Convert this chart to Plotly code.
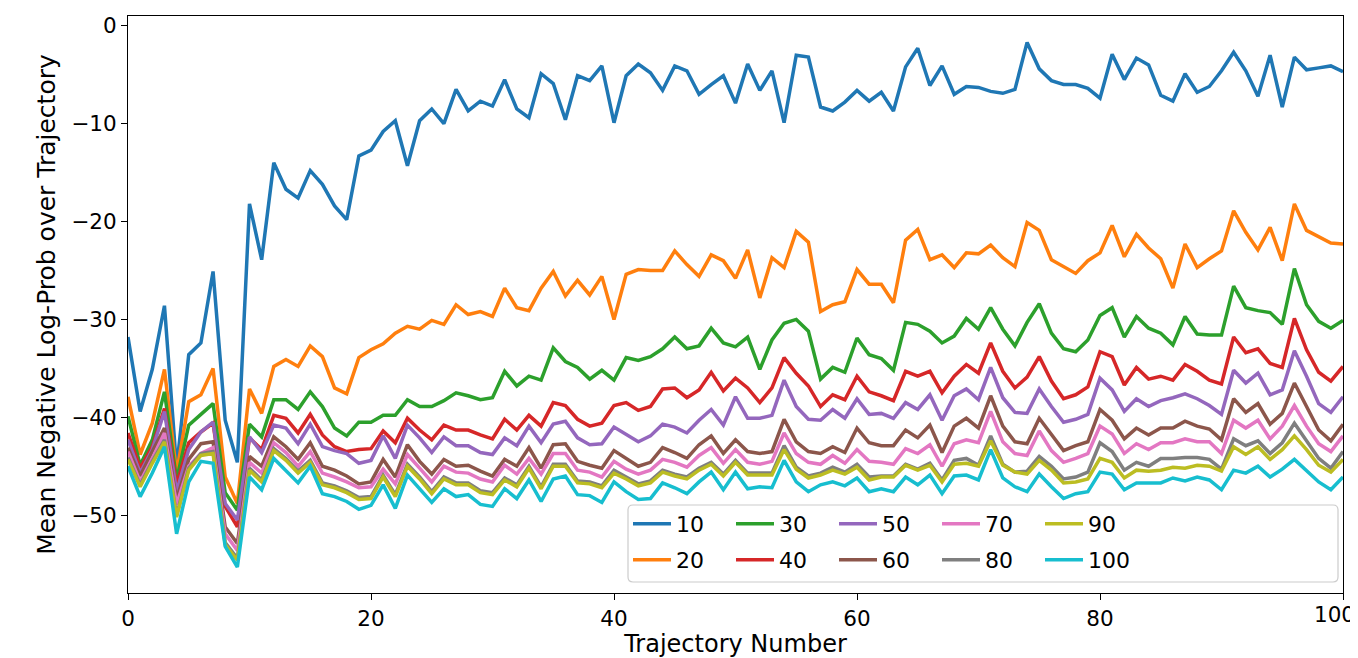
import plotly.graph_objects as go

x_vals = list(range(101))

s10 = [-31.8, -39.4, -35.1, -28.6, -45.2, -33.6, -32.4, -25.1, -40.3, -44.6,
       -18.2, -23.9, -14.0, -16.7, -17.6, -14.8, -16.2, -18.4, -19.8, -13.3,
       -12.7, -10.8, -9.7, -14.3, -9.7, -8.5, -10.0, -6.5, -8.7, -7.7,
       -8.2, -5.5, -8.5, -9.4, -4.9, -5.9, -9.6, -5.1, -5.6, -4.1,
       -9.9, -5.1, -3.9, -4.8, -6.6, -4.1, -4.6, -7.0, -6.0, -5.1,
       -7.9, -3.9, -6.6, -4.6, -9.9, -3.0, -3.2, -8.3, -8.7, -7.8,
       -6.6, -7.7, -6.8, -8.7, -4.2, -2.3, -6.1, -4.1, -7.0, -6.2,
       -6.3, -6.7, -6.9, -6.5, -1.7, -4.4, -5.6, -6.0, -6.0, -6.4,
       -7.4, -2.9, -5.5, -3.3, -4.0, -7.1, -7.7, -4.9, -6.8, -6.2,
       -4.6, -2.7, -4.6, -7.2, -3.0, -8.3, -3.2, -4.5, -4.3, -4.1, -4.7]

s20 = [-37.9, -43.8, -40.6, -35.1, -45.7, -38.4, -37.7, -35.0, -46.1, -48.8,
       -37.1, -39.6, -34.8, -34.1, -34.8, -32.7, -33.8, -37.0, -37.6, -33.9,
       -33.1, -32.5, -31.4, -30.7, -31.0, -30.1, -30.5, -28.5, -29.5, -29.2,
       -29.7, -26.8, -28.8, -29.1, -26.8, -25.1, -27.6, -26.0, -27.5, -25.6,
       -30.0, -25.4, -24.9, -25.0, -25.0, -23.0, -24.4, -25.6, -23.4, -24.0,
       -25.8, -22.9, -27.8, -23.7, -24.7, -21.0, -22.1, -29.2, -28.5, -28.2,
       -24.9, -26.4, -26.4, -28.3, -21.9, -20.8, -23.9, -23.4, -24.7, -23.2,
       -23.3, -22.4, -23.7, -24.6, -20.1, -20.9, -23.9, -24.6, -25.3, -24.0,
       -23.2, -20.4, -23.6, -21.3, -22.7, -23.8, -26.8, -22.3, -24.7, -23.8,
       -23.0, -18.9, -21.1, -22.9, -20.6, -24.0, -18.2, -20.9, -21.6, -22.2, -22.3]

s30 = [-39.9, -44.9, -42.3, -37.4, -46.4, -40.8, -39.7, -38.6, -47.7, -49.5,
       -40.7, -42.0, -38.2, -38.2, -39.2, -37.4, -38.9, -41.1, -41.9, -40.5,
       -40.5, -39.8, -39.8, -38.2, -38.9, -38.9, -38.3, -37.5, -37.8, -38.2,
       -38.0, -35.3, -36.8, -35.8, -36.2, -32.9, -34.3, -34.9, -36.1, -35.2,
       -36.2, -33.9, -34.2, -33.8, -33.0, -31.8, -33.0, -32.7, -30.9, -32.4,
       -32.8, -31.8, -35.1, -32.1, -30.4, -30.0, -31.2, -36.1, -34.9, -35.4,
       -31.9, -33.6, -34.0, -35.2, -30.3, -30.5, -31.2, -32.4, -31.7, -29.9,
       -31.0, -28.8, -31.0, -32.7, -30.3, -28.4, -31.4, -33.0, -33.3, -32.1,
       -29.6, -28.8, -31.8, -29.7, -30.9, -31.4, -32.6, -29.7, -31.5, -31.6,
       -31.6, -26.6, -28.8, -29.1, -29.3, -30.5, -24.8, -28.5, -30.2, -30.9, -30.1]

s40 = [-41.6, -45.2, -43.0, -39.1, -46.9, -42.6, -41.5, -40.6, -49.1, -51.2,
       -42.1, -43.3, -39.8, -40.1, -41.6, -39.7, -41.8, -43.0, -43.5, -43.3,
       -43.2, -41.4, -42.6, -40.1, -41.3, -42.3, -40.8, -41.3, -41.3, -41.8,
       -42.2, -40.2, -41.3, -39.8, -40.9, -38.5, -38.8, -40.2, -40.9, -40.6,
       -38.8, -38.5, -39.3, -38.9, -37.1, -37.0, -38.0, -37.2, -35.4, -37.3,
       -36.0, -37.0, -38.5, -37.0, -33.9, -35.5, -36.8, -38.9, -37.7, -38.2,
       -35.8, -37.4, -37.8, -38.3, -35.3, -35.8, -35.3, -37.5, -35.8, -34.6,
       -35.5, -32.4, -35.3, -37.0, -35.9, -33.8, -36.3, -38.1, -37.7, -36.9,
       -33.3, -33.8, -36.7, -34.9, -36.1, -35.8, -36.2, -34.6, -35.3, -36.2,
       -36.6, -31.8, -33.4, -33.0, -34.5, -34.9, -29.9, -33.1, -35.4, -36.3, -34.8]

s50 = [-42.3, -45.7, -43.3, -39.4, -47.6, -43.3, -41.5, -40.5, -48.8, -50.5,
       -42.0, -43.6, -40.8, -41.1, -42.7, -40.7, -43.0, -43.4, -43.7, -44.7,
       -44.4, -41.9, -44.2, -40.8, -42.1, -43.6, -42.0, -42.9, -42.9, -43.6,
       -43.8, -42.1, -42.9, -40.9, -42.6, -40.7, -40.4, -42.1, -42.8, -42.7,
       -41.0, -41.7, -42.5, -41.9, -40.7, -41.0, -41.6, -40.3, -39.2, -40.8,
       -37.9, -40.1, -40.1, -39.8, -36.2, -38.9, -40.2, -40.3, -39.2, -40.1,
       -38.1, -39.7, -39.6, -40.1, -38.5, -39.2, -37.7, -40.3, -37.8, -37.1,
       -38.2, -34.9, -38.0, -39.5, -39.6, -37.1, -38.9, -40.5, -40.2, -39.7,
       -36.0, -37.2, -39.4, -38.1, -38.9, -38.3, -38.0, -37.6, -38.1, -38.8,
       -39.7, -35.2, -36.5, -35.5, -37.7, -37.2, -33.2, -35.8, -38.6, -39.5, -37.9]

s60 = [-43.1, -46.0, -43.5, -41.1, -48.4, -44.3, -42.7, -42.5, -51.2, -52.9,
       -44.0, -45.0, -42.0, -43.0, -44.3, -42.6, -45.0, -45.4, -46.0, -46.8,
       -46.6, -44.3, -46.1, -42.8, -44.5, -45.8, -44.3, -45.0, -44.9, -45.5,
       -46.0, -44.3, -45.0, -43.1, -45.2, -42.8, -42.7, -44.5, -44.9, -45.2,
       -43.4, -44.2, -45.0, -44.6, -43.1, -43.6, -44.2, -42.8, -41.9, -43.7,
       -42.3, -43.5, -43.7, -43.5, -40.2, -42.5, -43.5, -43.7, -43.0, -43.6,
       -41.1, -42.6, -42.9, -42.9, -41.3, -42.1, -40.8, -43.6, -40.9, -40.1,
       -41.1, -37.8, -40.9, -42.5, -42.7, -40.1, -41.8, -43.4, -42.9, -42.5,
       -39.2, -40.3, -42.2, -41.1, -41.8, -41.1, -41.1, -40.4, -40.9, -41.2,
       -42.3, -38.1, -39.5, -38.6, -40.7, -39.6, -36.5, -38.9, -41.3, -42.4, -40.7]

s70 = [-43.5, -46.6, -44.2, -41.6, -48.9, -45.0, -43.7, -43.1, -51.9, -53.6,
       -44.6, -45.7, -42.6, -43.6, -45.0, -43.5, -45.7, -46.1, -46.6, -47.2,
       -47.1, -45.3, -46.8, -43.8, -45.2, -46.6, -45.0, -45.6, -45.7, -46.3,
       -46.6, -44.9, -45.8, -44.2, -45.8, -43.7, -43.7, -45.4, -45.6, -46.1,
       -44.5, -45.3, -45.8, -45.4, -44.3, -44.6, -45.1, -43.9, -43.1, -44.7,
       -43.3, -44.6, -44.8, -44.5, -41.6, -43.7, -44.6, -44.8, -43.9, -44.7,
       -43.3, -44.5, -44.6, -44.8, -43.2, -43.7, -42.8, -45.0, -42.7, -42.3,
       -42.6, -39.4, -42.5, -43.7, -43.9, -41.4, -43.4, -44.6, -44.2, -43.7,
       -40.9, -41.7, -43.7, -42.7, -43.3, -42.6, -42.6, -42.2, -42.5, -42.5,
       -43.7, -40.3, -41.1, -40.3, -42.2, -40.9, -38.8, -40.9, -42.7, -43.5, -41.9]

s80 = [-44.1, -46.9, -44.5, -42.3, -50.0, -45.2, -43.7, -43.5, -52.8, -54.4,
       -45.2, -46.4, -43.2, -44.2, -45.5, -44.4, -46.7, -47.0, -47.5, -48.2,
       -48.1, -45.9, -47.9, -44.8, -46.1, -47.6, -46.1, -46.7, -46.7, -47.5,
       -47.7, -46.2, -46.9, -45.0, -47.1, -44.8, -44.8, -46.5, -46.6, -47.0,
       -45.4, -46.1, -46.8, -46.5, -45.4, -45.8, -46.1, -45.2, -44.6, -45.8,
       -44.4, -45.7, -45.7, -45.7, -42.9, -45.1, -46.0, -45.7, -45.1, -45.6,
       -44.8, -46.1, -46.0, -46.0, -44.8, -45.3, -44.7, -46.4, -44.4, -44.2,
       -44.9, -41.9, -44.8, -45.6, -45.5, -44.0, -45.0, -46.3, -46.1, -45.6,
       -42.6, -43.5, -45.4, -44.6, -45.0, -44.2, -44.2, -44.1, -44.1, -44.3,
       -45.3, -42.2, -42.9, -42.4, -43.7, -42.6, -40.6, -42.4, -44.2, -45.2, -43.5]

s90 = [-44.3, -47.1, -44.7, -42.5, -50.2, -45.4, -43.9, -43.7, -53.0, -54.6,
       -45.4, -46.6, -43.4, -44.4, -45.7, -44.6, -46.9, -47.2, -47.7, -48.4,
       -48.3, -46.1, -48.1, -45.0, -46.3, -47.8, -46.3, -46.9, -46.9, -47.7,
       -47.9, -46.4, -47.1, -45.2, -47.3, -45.0, -45.0, -46.7, -46.8, -47.2,
       -45.7, -46.3, -47.0, -46.7, -45.6, -46.0, -46.3, -45.4, -44.8, -46.0,
       -44.6, -45.9, -45.9, -45.9, -43.3, -45.3, -46.2, -45.9, -45.4, -45.8,
       -45.1, -46.4, -46.1, -46.1, -44.9, -45.4, -44.9, -46.6, -44.8, -44.7,
       -45.0, -42.4, -44.9, -45.6, -45.8, -44.4, -45.4, -46.7, -46.6, -46.3,
       -44.2, -44.6, -46.2, -45.4, -45.5, -45.4, -45.1, -45.2, -44.9, -45.0,
       -45.5, -43.0, -43.8, -43.0, -44.3, -43.3, -41.9, -43.3, -44.9, -45.6, -44.3]

s100 = [-45.0, -48.1, -45.7, -43.0, -51.9, -46.6, -44.5, -44.7, -53.2, -55.3,
        -46.1, -47.4, -44.2, -45.4, -46.7, -45.0, -47.8, -48.1, -48.6, -49.4,
        -49.0, -46.9, -49.3, -45.9, -47.3, -48.7, -47.3, -48.1, -47.9, -48.9,
        -49.1, -47.3, -48.3, -46.4, -48.6, -46.3, -46.0, -47.9, -48.0, -48.7,
        -46.6, -47.6, -48.4, -48.3, -46.7, -47.2, -47.8, -46.6, -45.6, -47.4,
        -45.6, -47.3, -47.1, -47.2, -44.4, -46.6, -47.6, -46.9, -46.6, -47.0,
        -46.2, -47.6, -47.3, -47.6, -46.1, -46.9, -45.9, -47.8, -46.0, -45.9,
        -46.4, -43.3, -46.2, -47.1, -47.6, -45.8, -47.1, -48.3, -47.8, -47.6,
        -45.6, -45.8, -47.4, -46.7, -46.7, -46.7, -46.2, -46.5, -46.1, -46.4,
        -47.4, -45.4, -45.7, -45.0, -46.1, -45.3, -44.3, -45.4, -46.6, -47.4, -46.1]

series_names = ["10", "20", "30", "40", "50", "60", "70", "80", "90", "100"]
series_values = [s10, s20, s30, s40, s50, s60, s70, s80, s90, s100]
colors = ["#1f77b4", "#ff7f0e", "#2ca02c", "#d62728", "#9467bd",
          "#8c564b", "#e377c2", "#7f7f7f", "#bcbd22", "#17becf"]

x_ticks = [0, 20, 40, 60, 80, 100]
x_ticktext = ["0", "20", "40", "60", "80", "100"]
y_ticks = [0, -10, -20, -30, -40, -50]
y_ticktext = ["0", "\u221210", "\u221220", "\u221230", "\u221240", "\u221250"]

FONT = "DejaVu Sans"
TICK_SIZE = 21.5
LEG_SIZE = 22

# page body has an 8px margin; figure is drawn at offset (8, 8)
OFF = 8
W, H = 1358 - OFF, 658 - OFF
# plot area in screen pixels
SL, SR, ST, SB = 128, 1343, 16, 593
L, R, T, B = SL - OFF, SR - OFF, ST - OFF, SB - OFF
pw, ph = R - L, B - T

def px_to_paper_x(px):   # screen px -> paper
    return (px - SL) / pw

def px_to_paper_y(py):
    return (SB - py) / ph

fig = go.Figure()

for i, (name, vals, col) in enumerate(zip(series_names, series_values, colors)):
    lg = "legend" if i == 0 else "legend%d" % (i + 1)
    fig.add_trace(go.Scatter(
        x=x_vals, y=vals, mode="lines", name=name,
        line=dict(color=col, width=3.5),
        legend=lg, showlegend=True,
    ))

# legend layout: 5 columns x 2 rows, column-major order (like matplotlib ncol=5)
col_x = [628, 731, 834, 937, 1040]
row_y = [524, 560]

legend_common = dict(
    bgcolor="rgba(0,0,0,0)", borderwidth=0,
    font=dict(family=FONT, size=LEG_SIZE, color="black"),
    xanchor="left", yanchor="middle", itemwidth=38,
    orientation="h", tracegroupgap=0,
)
layout_legends = {}
for i in range(10):
    c, r = divmod(i, 2)
    key = "legend" if i == 0 else "legend%d" % (i + 1)
    layout_legends[key] = dict(legend_common,
                               x=px_to_paper_x(col_x[c]),
                               y=px_to_paper_y(row_y[r]))

fig.update_layout(
    width=W, height=H,
    margin=dict(l=L, r=W - R, t=T, b=H - B, autoexpand=False),
    paper_bgcolor="white", plot_bgcolor="white",
    font=dict(family=FONT, size=TICK_SIZE, color="black"),
    showlegend=True,
    **layout_legends,
)

# legend frame with rounded corners
x0, x1 = px_to_paper_x(628), px_to_paper_x(1338)
y0, y1 = px_to_paper_y(582), px_to_paper_y(505)
rx, ry = 5 / pw, 5 / ph
path = (f"M {x0+rx},{y0} L {x1-rx},{y0} Q {x1},{y0} {x1},{y0+ry} "
        f"L {x1},{y1-ry} Q {x1},{y1} {x1-rx},{y1} "
        f"L {x0+rx},{y1} Q {x0},{y1} {x0},{y1-ry} "
        f"L {x0},{y0+ry} Q {x0},{y0} {x0+rx},{y0} Z")
fig.add_shape(type="path", xref="paper", yref="paper", path=path,
              line=dict(color="#cccccc", width=1.2),
              fillcolor="rgba(255,255,255,0.8)", layer="above")

# last x tick label: keep it fully inside the page (right-aligned at the edge)
shown_ticktext = x_ticktext[:-1] + [""]
fig.add_annotation(
    x=x_ticks[-1], xref="x", y=0, yref="paper",
    text=x_ticktext[-1], showarrow=False,
    xanchor="right", yanchor="top", xshift=14, yshift=-7,
    font=dict(family=FONT, size=TICK_SIZE, color="black"),
)

fig.update_xaxes(
    range=[0, 100], tickvals=x_ticks, ticktext=shown_ticktext,
    ticks="outside", ticklen=6,
    tickcolor="black", tickwidth=1.2, showline=True, linecolor="black",
    linewidth=1.2, mirror=True, showgrid=False, zeroline=False,
    automargin=False,
    tickfont=dict(family=FONT, size=TICK_SIZE, color="black"),
    title=dict(text="Trajectory Number",
               font=dict(family=FONT, size=24, color="black"), standoff=6),
)
fig.update_yaxes(
    range=[-57.95, 1.0], tickvals=y_ticks, ticktext=y_ticktext, ticks="outside",
    ticklen=6, tickcolor="black", tickwidth=1.2, showline=True,
    linecolor="black", linewidth=1.2, mirror=True, showgrid=False,
    zeroline=False, automargin=False, ticklabeloverflow="allow",
    tickfont=dict(family=FONT, size=TICK_SIZE, color="black"),
    title=dict(text="Mean Negative Log-Prob over Trajectory",
               font=dict(family=FONT, size=25, color="black"), standoff=8),
)

fig.write_html("out.html")
